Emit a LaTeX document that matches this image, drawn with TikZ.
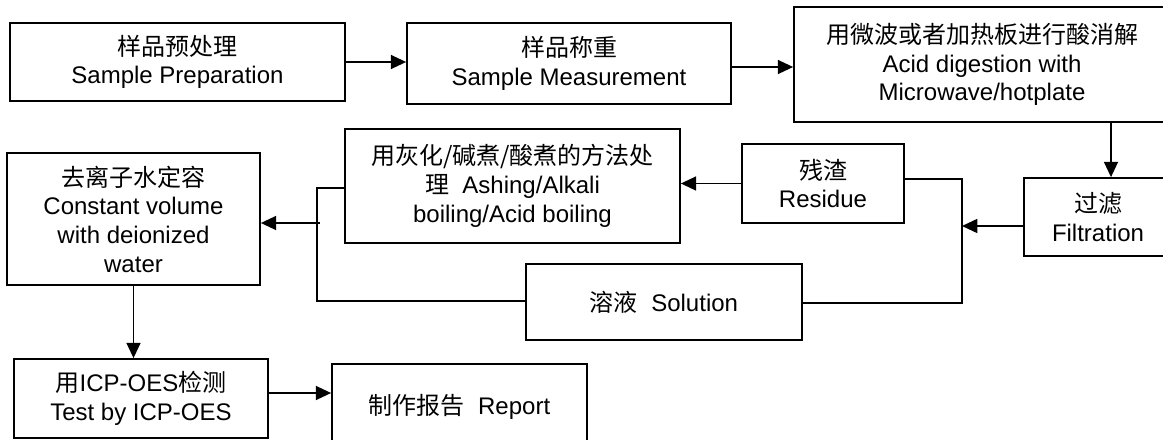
\documentclass[tikz,border=0pt]{standalone}
\usepackage{fontspec}
\setmainfont{Liberation Sans}
\newfontfamily\cjk{Noto Sans CJK SC}
\usetikzlibrary{arrows.meta,calc}
\begin{document}
\begin{tikzpicture}[x=0.75pt,y=-0.75pt,
  box/.style 2 args={draw, line width=1.3pt, minimum width=#1*0.75pt, minimum height=#2*0.75pt, inner sep=0pt, align=center, font=\fontsize{18}{21.5}\selectfont},
  conn/.style={line width=1.3pt},
  arr/.style={line width=1.3pt, -{Triangle[length=11.5pt,width=10.5pt]}}]
\useasboundingbox (0,0) rectangle (1163,439);
\clip (0,0) rectangle (1163,439);
\fill[white] (0,0) rectangle (1163,439);

\node[box={335}{78}] (b1) at (177.5,62) {{\cjk 样品预处理}\\Sample Preparation};
\node[box={324}{81}] (b2) at (569,63.5) {{\cjk 样品称重}\\Sample Measurement};
\node[box={376}{115}] (b3) at (982,64.5) {{\cjk 用微波或者加热板进行酸消解}\\Acid digestion with\\Microwave/hotplate};
\node[box={148}{78}] (fil) at (1098,217) {{\cjk 过滤}\\Filtration};
\node[box={162}{79}] (res) at (823,183.5) {{\cjk 残渣}\\Residue};
\node[box={335}{114}] (ash) at (512.5,186) {{\cjk 用灰化/碱煮/酸煮的方法处}\\{\cjk 理}\ \ Ashing/Alkali\\boiling/Acid boiling};
\node[box={276}{76}] (sol) at (664,302) {{\cjk 溶液}\ \ Solution};
\node[box={253}{132}] (b4) at (133.5,219) {{\cjk 去离子水定容}\\Constant volume\\with deionized\\water};
\node[box={254}{79}] (icp) at (141,398.5) {{\cjk 用}ICP-OES{\cjk 检测}\\Test by ICP-OES};
\node[box={255}{86}] (rep) at (459.5,407) {{\cjk 制作报告}\ \ Report};

\draw[arr] (b1.east) -- (b1.east -| b2.west);
\coordinate (c2) at (794,67);
\draw[arr] (b2.east |- c2) -- (b3.west |- c2);
\coordinate (c3) at (1111,150);
\draw[arr] (b3.south -| c3) -- (fil.north -| c3);
\coordinate (j) at (962,226);
\draw[arr] (fil.west |- j) -- (j);
\coordinate (ja) at (962,179);
\coordinate (jb) at (962,303);
\draw[conn] (res.east |- ja) -- (ja) -- (jb) -- (sol.east |- jb);
\draw[arr] (res.west) -- (ash.east |- res.west);
\coordinate (ka) at (317,188);
\coordinate (kb) at (317,301);
\draw[conn] (ash.west |- ka) -- (ka) -- (kb) -- (sol.west |- kb);
\coordinate (k) at (320,223);
\draw[arr] (k) -- (b4.east |- k);
\draw[arr] (b4.south) -- (b4.south |- icp.north);
\coordinate (m) at (0,393);
\draw[arr] (icp.east |- m) -- (rep.west |- m);
\end{tikzpicture}
\end{document}
